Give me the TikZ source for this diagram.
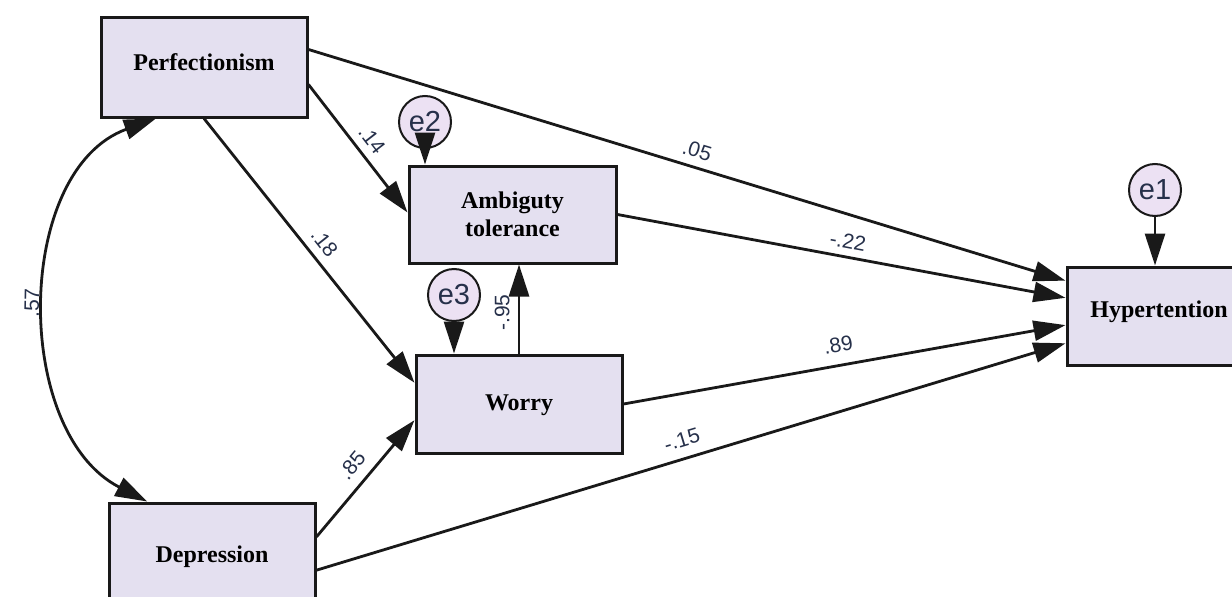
\documentclass[tikz,border=0pt]{standalone}
\usepackage{fontspec}
\setmainfont{Liberation Serif}
\newfontfamily\lblfont{Liberation Sans}
\usetikzlibrary{arrows.meta,calc}
\definecolor{boxfill}{HTML}{E4E0F0}
\definecolor{errfill}{HTML}{ECE1F3}
\definecolor{lblcol}{HTML}{26304A}
\begin{document}
\begin{tikzpicture}[x=1pt,y=-1pt,
  var/.style={draw=black!90, line width=3pt, fill=boxfill, minimum width=206pt, minimum height=98pt,
    inner sep=0pt, font=\fontsize{24}{28}\selectfont\bfseries, align=center},
  err/.style={circle, draw=black!90, line width=2pt, fill=errfill, minimum size=52pt, inner sep=0pt,
    font=\lblfont\fontsize{29}{30}\selectfont, text=lblcol},
  arr/.style={line width=2.8pt, draw=black!90, -{Triangle[length=32pt,width=20pt]}},
  dblarr/.style={line width=2.8pt, draw=black!90, {Triangle[length=32pt,width=20pt]}-{Triangle[length=32pt,width=20pt]}},
  lbl/.style={font=\lblfont\fontsize{21}{23}\selectfont, text=lblcol, inner sep=1pt, sloped}
]
\useasboundingbox (0,0) rectangle (1232,597);

% observed variables
\node[var, minimum height=100pt, text height=17pt, text depth=10pt] (perf) at (204,67) {Perfectionism};
\node[var, minimum width=207pt, minimum height=97pt] (amb) at (512.5,214.5) {Ambiguty\\tolerance};
\node[var, text height=17pt, text depth=5pt] (worry) at (519,404) {Worry};
\node[var, minimum width=184pt, text height=17pt, text depth=14pt] (hyp) at (1159,316) {Hypertention};
\node[var, text height=20pt, text depth=0pt] (dep) at (212,552) {Depression};

% error terms
\node[err] (e2) at (425,122) {e2};
\node[err] (e3) at (454,295) {e3};
\node[err] (e1) at (1155,190) {e1};

% paths
\draw[arr] ($(perf.north east)!0.33!(perf.south east)$) -- ($(hyp.north west)!0.15!(hyp.south west)$)
  node[lbl, pos=0.507, above=7pt] {.05};
\draw[arr] ($(perf.north east)!0.67!(perf.south east)$) -- ($(amb.north west)!0.48!(amb.south west)$)
  node[lbl, pos=0.51, above=7pt] {.14};
\draw[arr] (perf.south) -- ($(worry.north west)!0.29!(worry.south west)$)
  node[lbl, pos=0.51, above=7pt] {.18};
\draw[arr] (amb.east) -- ($(hyp.north west)!0.32!(hyp.south west)$)
  node[lbl, pos=0.508, above=6pt] {-.22};
\draw[arr] (worry.east) -- ($(hyp.north west)!0.59!(hyp.south west)$)
  node[lbl, pos=0.494, above=11pt] {.89};
\draw[arr] ($(dep.north east)!0.68!(dep.south east)$) -- ($(hyp.north west)!0.77!(hyp.south west)$)
  node[lbl, pos=0.495, above=9pt] {-.15};
\draw[arr] ($(dep.north east)!0.35!(dep.south east)$) -- ($(worry.north west)!0.66!(worry.south west)$)
  node[lbl, pos=0.51, above=9pt] {.85};
\draw[arr] (worry.north) -- (worry.north |- amb.south)
  node[lbl, pos=0.46, above=7pt] {-.95};

% error arrows
\draw[arr] (e2.south) -- (e2.south |- amb.north);
\draw[arr] (e3.south) -- (e3.south |- worry.north);
\draw[arr] (e1.south) -- (e1.south |- hyp.north);

% covariance
\draw[dblarr] ($(dep.north west)!0.19!(dep.north east)$) .. controls (12,432) and (14,170) ..
  ($(perf.south west)!0.27!(perf.south east)$)
  node[lbl, pos=0.5, above=6pt] {.57};
\end{tikzpicture}
\end{document}
